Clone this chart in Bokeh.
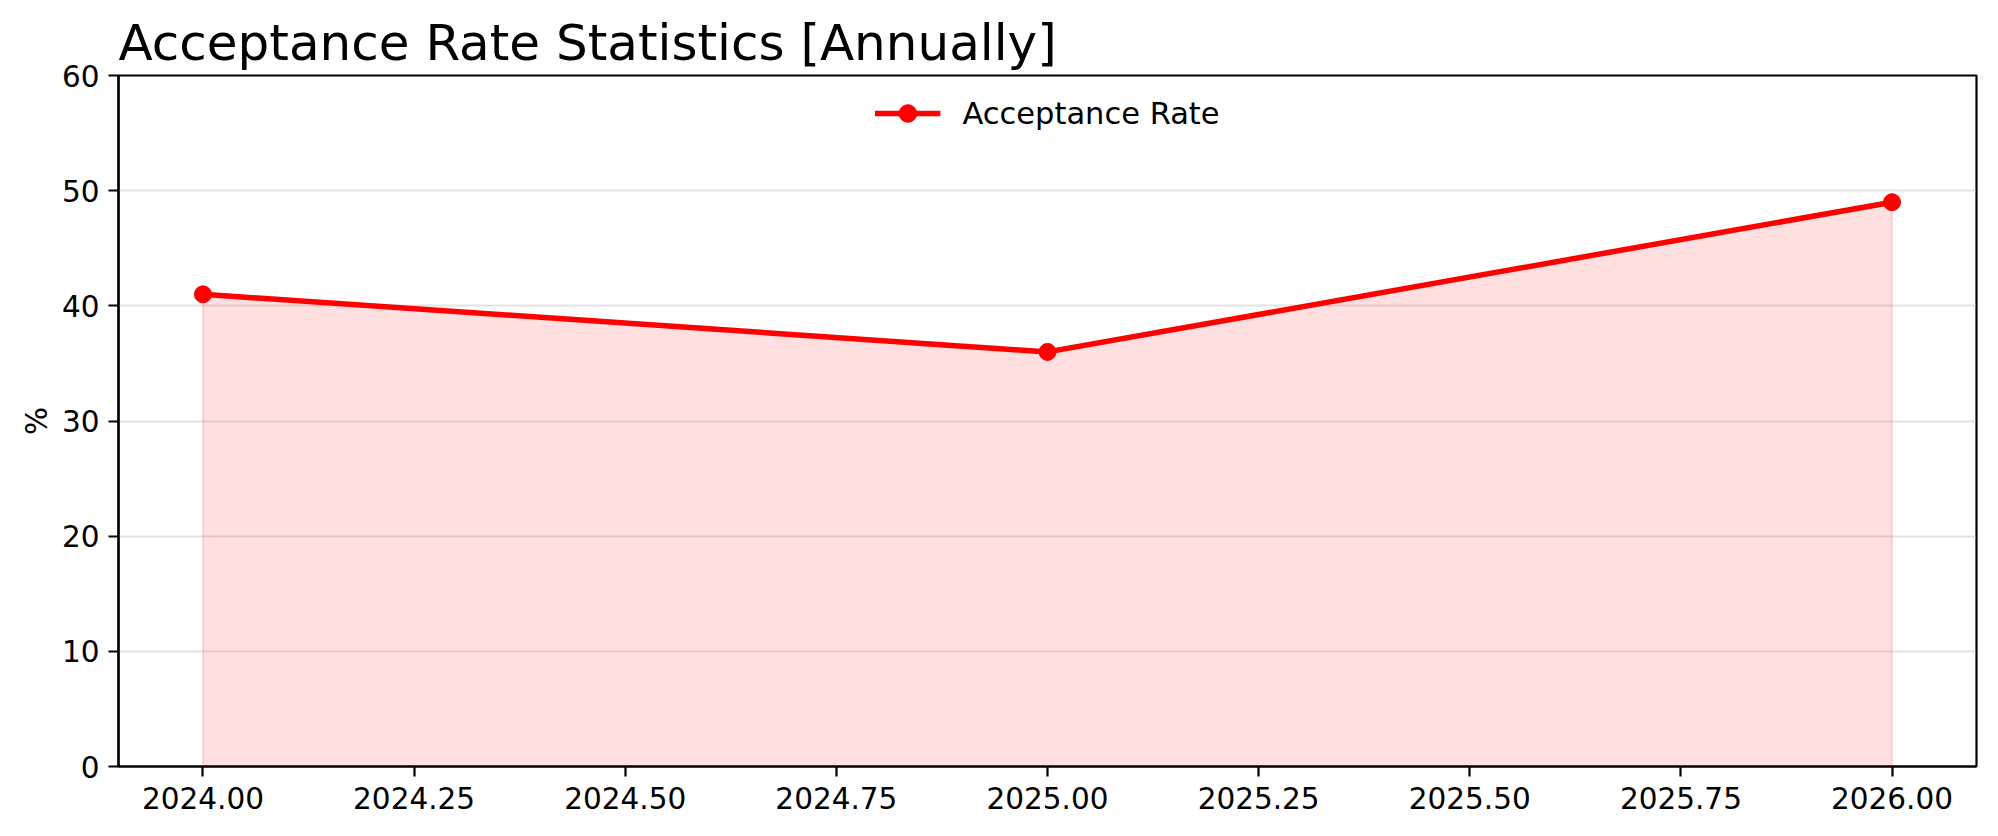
from bokeh.plotting import figure
from bokeh.embed import file_html
from bokeh.resources import INLINE
from bokeh.models import Range1d, FixedTicker, PrintfTickFormatter, Legend, LegendItem

years = [2024, 2025, 2026]
acceptance_rate = [41, 36, 49]
x_ticks = [2024.0, 2024.25, 2024.5, 2024.75, 2025.0, 2025.25, 2025.5, 2025.75, 2026.0]
y_ticks = [0, 10, 20, 30, 40, 50, 60]
title_text = "Acceptance Rate Statistics [Annually]"
series_name = "Acceptance Rate"
y_label = "%"

FONT = "DejaVu Sans"

p = figure(width=1982, height=820, output_backend="svg", toolbar_location=None,
           x_range=Range1d(2023.9, 2026.1), y_range=Range1d(0, 60),
           min_border_left=118, min_border_right=6, min_border_top=75, min_border_bottom=54)

p.title.text = title_text
p.title.text_font = FONT
p.title.text_font_size = "50px"
p.title.text_font_style = "normal"
p.title.text_color = "black"
p.title.align = "left"
p.title.standoff = 7

# area
px = [years[0]] + years + [years[-1]]
py = [0] + acceptance_rate + [0]
p.patch(px, py, fill_color="red", fill_alpha=0.125, line_color="red", line_alpha=0.12, line_width=2)

line = p.line(years, acceptance_rate, line_color="red", line_width=5.5)
pts = p.scatter(years, acceptance_rate, marker="circle", size=17, fill_color="red", line_color="red")

legend = Legend(items=[LegendItem(label=series_name, renderers=[line, pts])], location="top_center")
legend.border_line_color = None
legend.background_fill_alpha = 0
legend.label_text_font = FONT
legend.label_text_font_size = "30.5px"
legend.label_text_color = "black"
legend.glyph_width = 66
legend.glyph_height = 44
legend.label_height = 44
legend.label_standoff = 22
legend.margin = 16
legend.padding = 8
p.add_layout(legend, "center")

p.outline_line_color = "black"
p.outline_line_width = 2.2
p.outline_line_alpha = 1

p.xgrid.visible = False
p.ygrid.grid_line_color = "#b0b0b0"
p.ygrid.grid_line_alpha = 0.35
p.ygrid.grid_line_width = 2

p.xaxis.ticker = FixedTicker(ticks=x_ticks)
p.xaxis.formatter = PrintfTickFormatter(format="%.2f")
p.yaxis.ticker = FixedTicker(ticks=y_ticks)
p.yaxis.axis_label = y_label

for ax in (p.xaxis[0], p.yaxis[0]):
    ax.axis_line_color = "black"
    ax.axis_line_width = 2.2
    ax.major_tick_line_color = "black"
    ax.major_tick_line_width = 2.2
    ax.major_tick_out = 10
    ax.major_tick_in = 0
    ax.minor_tick_line_color = None
    ax.major_label_text_font = FONT
    ax.major_label_text_font_size = "29.5px"
    ax.major_label_text_color = "black"
    ax.axis_label_text_font = FONT
    ax.axis_label_text_font_size = "29.5px"
    ax.axis_label_text_font_style = "normal"
    ax.axis_label_text_color = "black"

p.xaxis.major_label_standoff = 10
p.yaxis.major_label_standoff = 9
p.yaxis.axis_label_standoff = 5

open("out.html", "w").write(file_html(p, INLINE))
